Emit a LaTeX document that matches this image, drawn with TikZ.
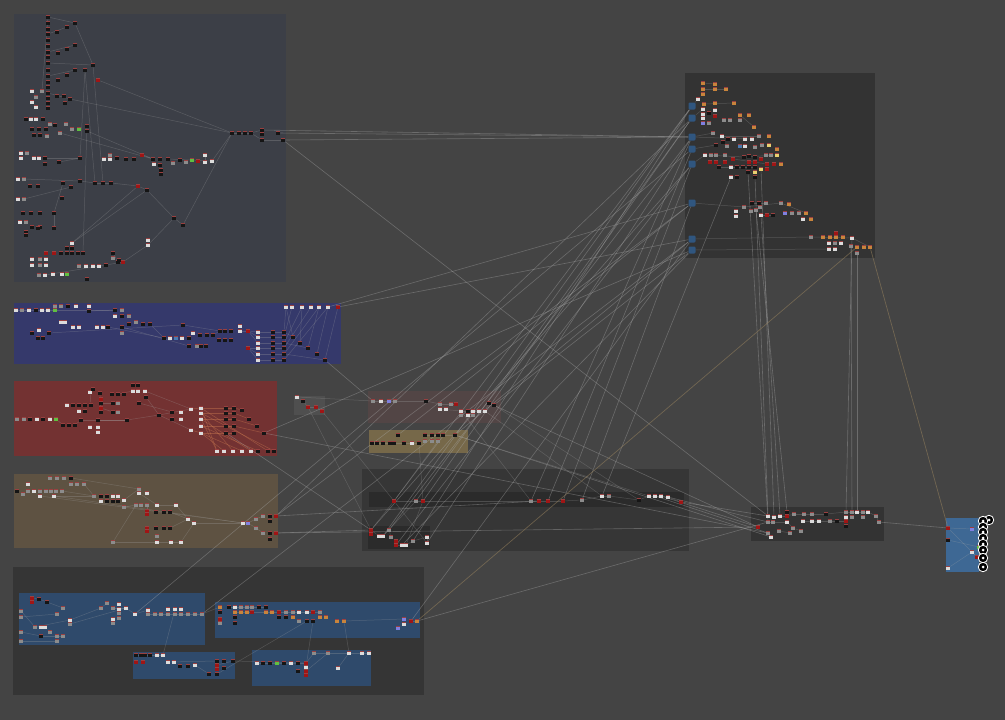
\documentclass[tikz,border=0pt]{standalone}
\pgfdeclarelayer{groups}
\pgfdeclarelayer{wires}
\pgfsetlayers{groups,wires,main}
\definecolor{bg}{HTML}{444444}
\definecolor{gAc}{HTML}{3C3F47}
\definecolor{gBc}{HTML}{35396B}
\definecolor{gCc}{HTML}{733232}
\definecolor{gDc}{HTML}{5E5242}
\definecolor{gEc}{HTML}{353535}
\definecolor{gEb}{HTML}{2F4A6B}
\definecolor{gSc}{HTML}{4F4F4F}
\definecolor{gFc}{HTML}{524545}
\definecolor{gGc}{HTML}{766849}
\definecolor{gHc}{HTML}{363636}
\definecolor{gHs}{HTML}{2B2B2B}
\definecolor{gIc}{HTML}{333333}
\definecolor{gKc}{HTML}{3E6894}
\definecolor{cK}{HTML}{151515}
\definecolor{cW}{HTML}{DCDCDC}
\definecolor{cG}{HTML}{8C8C8C}
\definecolor{cR}{HTML}{A01515}
\definecolor{cO}{HTML}{C8843C}
\definecolor{cP}{HTML}{8080E0}
\definecolor{cN}{HTML}{60C040}
\definecolor{cB}{HTML}{4A7AB0}
\definecolor{cY}{HTML}{E8D070}
\definecolor{hdr}{HTML}{9A4040}
\definecolor{iconb}{HTML}{30567F}
\definecolor{wireC}{HTML}{A8A8A8}
\definecolor{wireO}{HTML}{C87850}
\definecolor{wireT}{HTML}{A08860}
\tikzset{
  grp/.style={rectangle, fill=#1, draw=none, inner sep=0pt, anchor=north west},
  nd/.style={rectangle, inner sep=0pt, minimum width=4.2pt, minimum height=4.2pt, fill=#1,
    path picture={\fill[hdr] (path picture bounding box.north west) rectangle ([yshift=-0.9pt]path picture bounding box.north east);}},
  ibn/.style={rectangle, rounded corners=1.2pt, inner sep=0pt, minimum size=7pt, fill=iconb},
  kcirc/.style={circle, inner sep=0pt, minimum size=9.5pt, fill=black, draw=white, line width=0.8pt,
    path picture={\fill[white] (path picture bounding box.center) circle (1.5pt);}},
  wire/.style={draw=wireC, line width=0.6pt, opacity=0.4},
  iwire/.style={draw=wireC, line width=0.5pt, opacity=0.28},
  owire/.style={draw=wireO, line width=0.55pt, opacity=0.45},
  twire/.style={draw=wireT, line width=0.7pt, opacity=0.5},
}
\begin{document}
\begin{tikzpicture}[x=1pt,y=-1pt]
\useasboundingbox (0,0) rectangle (1005,720);
\begin{pgfonlayer}{groups}
\fill[bg] (0,0) rectangle (1005,720);
\node[grp=gAc, minimum width=272pt, minimum height=268pt] (gA) at (14,14) {};
\node[grp=gBc, minimum width=327pt, minimum height=61pt] (gB) at (14,303) {};
\node[grp=gCc, minimum width=263pt, minimum height=75pt] (gC) at (14,381) {};
\node[grp=gDc, minimum width=264pt, minimum height=74pt] (gD) at (14,474) {};
\node[grp=gEc, minimum width=411pt, minimum height=128pt] (gE) at (13,567) {};
\node[grp=gEb, minimum width=186pt, minimum height=52pt] (gE1) at (19,593) {};
\node[grp=gEb, minimum width=205pt, minimum height=36pt] (gE2) at (215,602) {};
\node[grp=gEb, minimum width=102pt, minimum height=27pt] (gE3) at (133,652) {};
\node[grp=gEb, minimum width=119pt, minimum height=36pt] (gE4) at (252,650) {};
\node[grp=gSc, minimum width=31pt, minimum height=19pt] (gS) at (294,396) {};
\node[grp=gFc, minimum width=133pt, minimum height=32pt] (gF) at (368,391) {};
\node[grp=gGc, minimum width=99pt, minimum height=23pt] (gG) at (369,430) {};
\node[grp=gHc, minimum width=327pt, minimum height=82pt] (gH) at (362,469) {};
\node[grp=gHs, minimum width=315pt, minimum height=15pt] (gH1) at (369,492) {};
\node[grp=gHs, minimum width=62pt, minimum height=23pt] (gH2) at (368,526) {};
\node[grp=gIc, minimum width=190pt, minimum height=185pt] (gI) at (685,73) {};
\node[grp=gIc, minimum width=133pt, minimum height=34pt] (gJ) at (751,507) {};
\node[grp=gKc, minimum width=33pt, minimum height=54pt] (gK) at (946,518) {};
\end{pgfonlayer}

% ---------- group A nodes
\foreach \x/\y/\c [count=\i] in {
48/17/cK,48/23/cK,48/29/cK,48/34/cK,48/40/cK,48/46/cK,48/52/cK,48/57/cK,48/63/cK,48/70/cK,48/76/cK,48/82/cK,48/87/cK,48/93/cK,48/98/cK,48/103/cK,48/108/cK,
57/32/cK,67/27/cK,75/23/cK,58/53/cK,67/49/cK,75/45/cK,58/80/cK,67/75/cK,75/70/cK,85/70/cK,93/65/cK,98/80/cR,
57/96/cK,64/96/cK,70/99/cK,65/103/cK,
32/91/cW,36/97/cG,32/102/cW,36/107/cW,42/91/cG,
26/119/cK,31/119/cW,36/119/cW,43/119/cK,50/124/cG,55/125/cK,66/124/cG,72/129/cG,79/129/cN,87/126/cK,87/131/cK,32/129/cK,39/129/cK,46/129/cK,34/135/cK,40/135/cK,47/136/cG,60/133/cG,
21/153/cW,27/153/cG,21/158/cW,34/158/cW,39/158/cW,45/158/cK,45/164/cK,59/162/cK,80/158/cK,
104/159/cW,110/159/cW,117/158/cK,110/155/cG,126/159/cK,134/159/cK,142/155/cR,
153/159/cK,154/164/cW,160/159/cK,160/165/cK,161/170/cK,161/174/cK,168/159/cK,173/163/cG,180/160/cK,186/162/cG,192/160/cN,198/161/cR,205/155/cW,205/162/cW,212/161/cW,
18/179/cW,24/179/cG,30/186/cK,38/186/cK,63/183/cK,71/187/cK,62/198/cK,80/181/cK,
95/183/cK,103/183/cK,111/183/cK,138/186/cR,147/190/cK,
18/199/cW,24/199/cG,23/213/cK,31/213/cK,40/213/cK,54/213/cK,
20/222/cW,26/222/cG,32/227/cK,40/227/cK,54/228/cK,26/232/cK,26/235/cK,38/228/cK,
174/218/cK,183/225/cK,
72/243/cW,67/248/cK,72/248/cK,46/253/cR,54/253/cR,61/253/cK,67/253/cK,72/253/cK,78/253/cK,83/253/cK,113/253/cK,118/262/cK,148/240/cW,148/245/cW,
32/259/cW,40/259/cG,46/259/cW,32/265/cW,40/265/cG,46/265/cW,39/275/cG,45/275/cW,53/274/cW,62/274/cW,67/274/cN,79/266/cG,86/266/cW,93/266/cW,99/266/cW,106/265/cK,87/279/cK,123/262/cR,113/258/cG,119/260/cK,
232/133/cK,239/133/cK,245/133/cK,251/133/cK,262/130/cK,262/134/cK,262/140/cK,278/133/cK,283/140/cK}
  \node[nd=\c] (a\i) at (\x,\y) {};

% ---------- group B nodes
\foreach \x/\y/\c [count=\i] in {
16/310/cW,22/310/cG,29/310/cW,36/310/cK,42/310/cW,48/310/cW,55/310/cN,61/306/cG,68/306/cK,76/306/cW,89/306/cW,55/306/cG,
89/311/cK,115/310/cK,122/310/cG,115/316/cW,122/316/cK,129/316/cG,129/324/cK,136/322/cG,143/324/cK,150/324/cK,
61/322/cW,65/322/cW,73/327/cW,79/327/cW,97/327/cW,103/327/cW,108/327/cK,122/327/cK,122/333/cG,
32/333/cK,39/330/cW,38/338/cK,43/338/cK,49/333/cK,
183/325/cK,164/338/cK,170/338/cW,176/338/cB,182/338/cW,189/338/cK,193/333/cW,200/335/cK,207/335/cK,213/335/cK,
220/331/cK,225/331/cK,231/331/cK,219/340/cK,225/340/cK,231/340/cK,240/326/cW,240/331/cW,189/346/cK,197/346/cG,201/346/cK,206/346/cK,
248/331/cR,248/348/cR,
258/332/cW,258/337/cW,258/343/cW,258/348/cW,258/354/cW,258/360/cW,
273/332/cK,273/337/cK,273/343/cK,273/348/cK,273/354/cK,273/360/cK,
284/332/cK,284/337/cK,284/343/cK,284/348/cK,284/354/cK,284/360/cK,
293/337/cK,300/343/cK,308/348/cK,317/354/cK,325/360/cK,
286/307/cW,292/307/cW,302/307/cW,311/307/cW,319/307/cW,328/307/cW,338/307/cR}
  \node[nd=\c] (b\i) at (\x,\y) {};

% ---------- group C nodes
\foreach \x/\y/\c [count=\i] in {
17/419/cG,24/419/cG,30/419/cK,37/419/cW,43/419/cK,50/419/cW,56/419/cN,
63/425/cK,69/425/cK,75/425/cK,81/420/cK,90/427/cW,98/427/cW,98/432/cW,98/420/cK,
90/392/cW,93/389/cK,100/393/cK,101/399/cR,101/403/cK,101/408/cR,101/412/cK,
112/394/cK,118/394/cK,124/394/cK,133/385/cK,138/385/cK,133/391/cW,138/391/cW,145/391/cW,146/397/cK,139/403/cK,
113/403/cK,118/403/cG,113/412/cK,118/412/cG,
67/405/cW,73/405/cK,79/405/cK,85/405/cK,91/405/cK,79/411/cW,85/411/cK,
127/420/cK,159/415/cK,172/412/cK,181/412/cW,172/419/cK,181/419/cW,191/409/cW,191/430/cW,
201/408/cW,201/413/cW,201/419/cW,201/426/cW,201/433/cW,
226/408/cK,226/413/cK,226/419/cK,226/426/cK,226/433/cK,
234/408/cK,234/413/cK,234/419/cK,234/426/cK,234/433/cK,
242/410/cK,249/419/cK,257/426/cK,264/433/cK,
217/451/cW,224/451/cW,233/451/cW,242/451/cW,251/451/cW,258/451/cK,268/451/cK,274/451/cK}
  \node[nd=\c] (c\i) at (\x,\y) {};

% ---------- group D nodes
\foreach \x/\y/\c [count=\i] in {
50/478/cG,57/478/cG,64/478/cG,71/478/cK,71/484/cG,77/484/cG,84/484/cG,28/484/cW,
17/491/cK,23/494/cG,28/491/cG,34/491/cW,40/491/cG,46/491/cG,51/491/cG,56/491/cG,62/491/cG,40/496/cW,54/496/cW,
94/496/cG,101/496/cK,107/496/cK,113/496/cW,118/496/cW,124/500/cW,101/501/cW,107/501/cK,113/501/cK,118/501/cK,124/507/cG,
139/489/cG,139/493/cW,147/493/cW,136/505/cG,141/505/cG,147/505/cG,157/505/cW,176/505/cW,
147/511/cR,147/514/cR,156/512/cK,164/512/cK,170/512/cK,
147/528/cR,147/531/cR,156/528/cK,164/528/cK,170/528/cK,
157/536/cG,157/542/cW,171/542/cW,181/542/cW,113/542/cG,
188/519/cW,194/523/cW,
243/523/cW,248/523/cP,256/519/cG,256/528/cG,263/516/cG,270/516/cK,276/516/cR,270/521/cK,263/533/cG,270/533/cK,276/533/cR,270/539/cK}
  \node[nd=\c] (d\i) at (\x,\y) {};

% ---------- group E nodes
\foreach \x/\y/\c [count=\i] in {
32/598/cR,32/602/cR,39/599/cK,47/602/cK,21/611/cG,21/617/cG,21/632/cG,21/641/cG,35/627/cG,41/627/cW,45/627/cW,50/632/cG,41/636/cK,57/636/cG,63/636/cG,57/641/cG,63/608/cG,57/614/cG,70/620/cW,70/624/cG,
101/608/cG,107/603/cG,113/608/cG,119/604/cW,119/609/cW,119/613/cG,119/618/cG,113/619/cW,113/623/cG,126/608/cW,135/614/cW,
148/610/cW,148/614/cG,155/614/cG,161/614/cG,168/609/cW,168/614/cG,175/609/cW,175/614/cG,181/609/cW,181/614/cG,188/614/cG,195/614/cG,202/614/cG,
220/607/cO,220/612/cK,220/619/cR,220/623/cG,229/607/cK,235/607/cW,241/607/cG,247/607/cG,252/607/cG,259/607/cK,266/607/cK,235/612/cO,241/612/cO,247/612/cO,252/612/cR,235/617/cK,235/623/cK,
266/612/cO,272/612/cO,279/612/cR,286/612/cG,293/612/cG,299/612/cW,307/612/cW,313/612/cR,320/612/cG,279/617/cK,286/617/cK,293/617/cO,299/621/cG,307/621/cK,313/621/cK,320/617/cO,326/617/cO,337/621/cO,344/621/cO,
404/619/cP,404/624/cW,398/628/cP,411/621/cR,417/621/cO,
136/655/cK,141/655/cK,145/655/cK,150/655/cK,157/655/cW,163/655/cW,136/662/cR,143/662/cR,168/662/cW,174/662/cW,180/666/cK,188/666/cK,195/665/cW,209/674/cK,217/661/cK,217/665/cR,217/669/cR,217/674/cK,224/661/cK,224/668/cK,233/661/cK,
257/663/cW,263/663/cK,270/663/cK,277/663/cN,284/663/cK,291/663/cW,298/663/cK,298/671/cK,306/663/cR,306/667/cW,306/671/cR,306/675/cR,314/653/cG,328/653/cG,349/653/cW,362/653/cW,369/653/cW,338/668/cW}
  \node[nd=\c] (e\i) at (\x,\y) {};

% ---------- small boxes S, F, G
\foreach \x/\y/\c [count=\i] in {297/397/cW,303/401/cK,308/407/cR,316/407/cR,322/411/cR}
  \node[nd=\c] (s\i) at (\x,\y) {};
\foreach \x/\y/\c [count=\i] in {
373/401/cG,381/401/cW,389/401/cP,395/401/cG,426/401/cK,440/404/cG,451/404/cG,456/404/cR,440/409/cW,446/409/cW,
461/411/cW,468/411/cK,473/411/cW,479/411/cW,485/411/cW,461/415/cG,468/415/cW,473/415/cG,489/403/cK,494/405/cK}
  \node[nd=\c] (f\i) at (\x,\y) {};
\foreach \x/\y/\c [count=\i] in {
398/435/cK,372/443/cK,377/443/cK,383/443/cK,390/443/cK,394/443/cK,404/443/cK,412/443/cW,419/443/cK,425/435/cK,
432/435/cK,438/435/cK,443/435/cK,455/435/cK,425/441/cG,432/441/cG,438/441/cG}
  \node[nd=\c] (g\i) at (\x,\y) {};

% ---------- group H nodes
\foreach \x/\y/\c [count=\i] in {
394/501/cR,416/501/cG,423/501/cR,531/501/cG,539/501/cR,548/501/cR,563/501/cR,582/500/cG,602/496/cW,609/496/cG,639/500/cK,649/496/cW,655/496/cW,661/496/cW,668/497/cW,681/502/cR,
371/530/cR,371/534/cR,379/536/cW,383/536/cW,389/530/cG,391/537/cG,396/541/cR,396/545/cR,402/545/cW,406/545/cW,413/541/cG,427/537/cW,427/543/cW}
  \node[nd=\c] (h\i) at (\x,\y) {};

% ---------- group I nodes
\foreach \y [count=\i] in {106,118,137,149,164,203,239,250}
  \node[ibn] (ib\i) at (692,\y) {};
\foreach \x/\y/\c [count=\i] in {
703/83/cO,715/84/cO,703/89/cO,715/89/cO,726/89/cO,703/94/cO,698/99/cW,704/104/cO,715/103/cO,734/103/cO,
703/109/cW,715/110/cW,703/114/cW,709/113/cK,715/116/cR,703/118/cW,703/123/cP,709/123/cG,740/115/cO,749/115/cO,
724/120/cG,730/120/cG,740/120/cG,754/127/cO,713/133/cG,722/136/cW,728/139/cK,734/139/cW,745/139/cW,752/139/cW,
759/136/cG,769/136/cO,716/145/cK,723/142/cK,727/146/cG,740/146/cB,745/146/cW,755/147/cG,762/145/cG,769/145/cY,
777/149/cO,705/155/cW,711/155/cG,716/155/cG,725/155/cG,733/159/cR,744/157/cK,749/156/cK,755/157/cK,761/159/cR,
766/155/cG,771/155/cG,777/155/cY,710/162/cR,716/162/cR,725/162/cR,749/162/cR,755/162/cR,767/164/cR,774/164/cR,
781/164/cO,719/167/cK,731/167/cW,737/167/cK,743/167/cK,749/167/cK,755/167/cK,761/169/cY,767/169/cR,748/172/cK,
755/172/cY,731/177/cW,737/177/cK,755/177/cK,
744/207/cG,736/211/cW,736/216/cW,751/211/cG,756/210/cG,752/203/cK,759/203/cK,766/203/cG,760/207/cG,761/215/cW,767/215/cR,773/215/cK,781/203/cG,789/204/cO,785/213/cP,792/213/cG,799/213/cG,806/213/cO,803/219/cW,811/219/cO,
811/237/cG,823/237/cO,830/237/cO,836/233/cR,836/237/cO,843/237/cO,852/238/cW,829/243/cW,835/243/cG,841/243/cW,851/246/cG,857/247/cO,864/247/cO,870/247/cO,829/249/cW,835/249/cW,857/253/cG}
  \node[nd=\c] (i\i) at (\x,\y) {};

% ---------- group J nodes
\foreach \x/\y/\c [count=\i] in {
768/516/cW,774/517/cW,780/516/cW,787/512/cK,787/516/cR,794/514/cG,804/514/cG,812/514/cG,826/514/cK,803/521/cW,
812/521/cW,819/521/cW,830/521/cG,837/521/cK,846/512/cG,852/512/cG,857/512/cW,863/512/cG,868/512/cW,846/517/cW,
852/517/cG,863/517/cG,846/521/cR,846/526/cK,876/516/cG,879/522/cG,768/522/cG,773/522/cG,787/522/cW,793/528/cG,
801/531/cG,779/531/cG,768/533/cG,771/537/cW,790/533/cG,758/527/cR}
  \node[nd=\c] (j\i) at (\x,\y) {};

% ---------- group K nodes
\foreach \x/\y/\c [count=\i] in {948/528/cR,948/540/cK,948/568/cW,972/529/cP,972/552/cW,979/547/cN,977/557/cR}
  \node[nd=\c] (k\i) at (\x,\y) {};
\node[kcirc] (kc1) at (989,520) {};
\foreach \y [count=\i from 2] in {521,527,532,538,544,550,558,567}
  \node[kcirc] (kc\i) at (983,\y) {};

% ---------- wires
\begin{pgfonlayer}{wires}
% inside A
\foreach \p/\q in {a1/a20,a20/a28,a4/a19,a7/a23,a9/a28,a11/a26,a14/a32,a32/a151,a29/a151,a28/a97,a27/a96,
  a56/a73,a49/a73,a62/a65,a65/a27,a64/a65,a89/a95,a95/a96,a96/a97,a97/a98,a98/a99,a99/a100,a100/a115,a115/a116,
  a116/a151,a117/a99,a117/a100,a148/a130,a130/a115,a87/a151,a102/a93,a106/a92,a111/a106,a138/a146,a146/a148,
  a38/a1,a128/a127,a48/a126,a151/a152,a152/a153,a153/a154,a154/a155,a154/a157,a157/a159,a72/a73,a79/a87,a85/a86}
  \draw[iwire] (\p) -- (\q);
% inside B
\foreach \p/\q in {b1/b14,b13/b14,b36/b37,b29/b38,b37/b47,b46/b47,b54/b59,b59/b61,b59/b62,b59/b63,b60/b64,b60/b65,b60/b66,
  b61/b67,b62/b68,b63/b69,b64/b70,b65/b71,b66/b72,b67/b73,b68/b74,b69/b75,b70/b76,b71/b77,b72/b78,b73/b79,b75/b81,b77/b83,
  b84/b73,b85/b74,b86/b75,b87/b76,b88/b77,b89/b78,b84/b79,b86/b80,b88/b81,b89/b82,b90/b83,b22/b38,b30/b55}
  \draw[iwire] (\p) -- (\q);
% inside C
\foreach \p/\q in {c7/c8,c10/c11,c11/c44,c44/c45,c45/c50,c45/c51,c18/c22,c20/c33,c21/c35,c24/c28,c31/c45,c32/c46,c30/c50,c41/c16,c15/c44}
  \draw[iwire] (\p) -- (\q);
\foreach \p/\q in {c50/c52,c51/c56,c52/c57,c53/c58,c54/c59,c55/c60,c56/c61,c57/c62,c58/c63,c59/c64,c60/c65,c61/c66,
  c62/c67,c63/c68,c64/c69,c65/c70,c52/c71,c53/c73,c54/c75,c55/c76,c56/c72,c56/c74,c52/c77,c53/c78,c54/c71}
  \draw[owire] (\p) -- (\q);
% inside D
\foreach \p/\q in {d17/d20,d7/d20,d19/d20,d25/d31,d30/d34,d32/d37,d36/d39,d37/d38,d38/d54,d43/d54,d48/d54,d52/d55,d54/d55,
  d55/d56,d56/d57,d57/d58,d57/d59,d58/d60,d59/d64,d53/d50,d50/d51,d51/d52,d53/d34,d19/d56,d18/d56,d4/d31}
  \draw[iwire] (\p) -- (\q);
% inside E
\foreach \p/\q in {e1/e3,e3/e4,e4/e17,e5/e9,e6/e18,e7/e13,e8/e16,e9/e19,e13/e15,e19/e21,e20/e30,e21/e22,e23/e30,e30/e31,
  e31/e32,e33/e34,e34/e35,e35/e37,e37/e39,e39/e41,e41/e42,e42/e43,e43/e44,e44/e45,e49/e50,e50/e51,e51/e52,e52/e53,e53/e54,
  e54/e55,e56/e62,e62/e63,e63/e64,e64/e65,e65/e66,e66/e67,e67/e68,e68/e69,e69/e70,e80/e81,e84/e85,
  e86/e87,e87/e88,e88/e89,e89/e90,e90/e91,e91/e38,e94/e100,e98/e99,e106/e115,e106/e101,
  e107/e108,e108/e109,e109/e110,e110/e111,e111/e112,e112/e113,e113/e115,e115/e119,e119/e120,e120/e121,e121/e122,e122/e123,
  e124/e121,e116/e76,e117/e120,e121/e80,e103/e75}
  \draw[iwire] (\p) -- (\q);
% inside small boxes and H
\foreach \p/\q in {s1/s2,s2/s3,s3/s4,s4/s5,s1/f1,s5/h1,s3/h17,f1/f2,f2/f3,f3/f4,f4/f5,f5/f6,f6/f7,f7/f8,f9/f11,f11/f12,f12/f13,
  f13/f14,f14/f15,f15/f19,f19/f20,g2/g3,g3/g4,g4/g5,g5/g6,g6/g7,g7/g8,g8/g9,g10/g11,g11/g12,g12/g13,g13/g14,
  h1/h2,h2/h3,h3/h4,h4/h5,h5/h6,h6/h7,h7/h8,h8/h9,h9/h10,h10/h11,h11/h12,h12/h13,h13/h14,h14/h15,h15/h16,
  h17/h19,h19/h20,h20/h21,h21/h22,h23/h24,h24/h25,h25/h26,h26/h27,h27/h28,h28/h29,h17/h1,h20/h2,h26/h3,h29/h1,
  g17/h1,g9/h3,f11/h4,f15/h9,f20/h11,g14/h12}
  \draw[iwire] (\p) -- (\q);
% inside I, J, K
\foreach \p/\q in {ib3/i25,ib3/i30,ib4/i33,ib5/i42,ib6/i75,ib7/i95,ib8/i109,ib1/i7,ib2/i11,i1/i2,i3/i5,i8/i10,i19/i24,
  i26/i31,i42/i47,i47/i53,i75/i87,i87/i92,i95/i101,i101/i108,i80/i82,i84/i86,i46/i59,i62/i67,
  j1/j2,j2/j3,j3/j5,j5/j6,j6/j7,j7/j8,j8/j9,j9/j15,j10/j11,j11/j12,j12/j13,j13/j14,j14/j23,j15/j16,j16/j17,j17/j18,
  j18/j19,j19/j25,j25/j26,j27/j28,j28/j29,j29/j30,j30/j31,j32/j35,j33/j34,k1/k4,k2/k6,k3/k5,k5/k7,k1/k7}
  \draw[iwire] (\p) -- (\q);
% between groups
\foreach \p/\q in {a155/ib3,a158/ib3,a159/ib3,a159/j1,b90/ib7,b89/ib6,b83/f1,c70/ib8,c70/j33,d62/ib6,d62/h5,
  d66/j36,d66/h17,f20/ib8,g14/ib7,h1/ib1,h3/ib2,h4/ib3,h6/ib4,h7/ib5,h8/ib6,h9/i72,h2/ib2,h27/ib1,h29/ib3,h24/ib5,
  e85/j27,i74/j1,i70/j27,i68/j2,i105/j16,i111/j17,i101/j15,j26/k1,h16/j1,h15/j27,h14/j36,h13/j33,e84/ib7,c61/h17,
  ib4/e31,ib2/d62,ib5/h17,ib6/g1,ib1/h20,ib3/h21,ib7/e44,ib8/h25,f19/j36,g14/j34,i84/j3,i79/j4}
  \draw[wire] (\p) -- (\q);
\draw[twire] (e85) -- (i106);
\draw[twire] (i108) -- (k1);
\end{pgfonlayer}
\end{tikzpicture}
\end{document}
